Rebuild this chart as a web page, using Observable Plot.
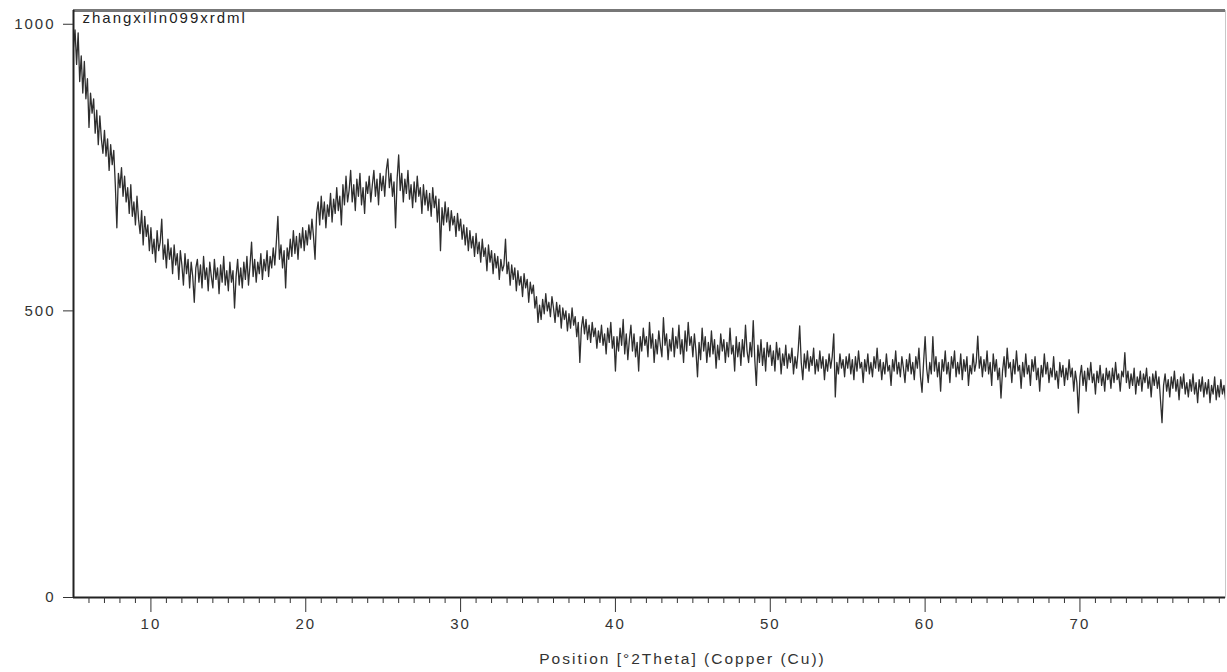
<!DOCTYPE html>
<html>
<head>
<meta charset="utf-8">
<script src="https://cdn.jsdelivr.net/npm/d3@7"></script>
<script src="https://cdn.jsdelivr.net/npm/@observablehq/plot@0.6"></script>
<style>
  html, body { margin: 0; padding: 0; background: #fff; }
</style>
</head>
<body>
<div id="chart"></div>
<script>
// ---- Data (counts, 0.1 °2θ steps) ----
const sampleName = "zhangxilin099xrdml";
const xAxisTitle = "Position [°2Theta] (Copper (Cu))";
const thetaStart = 5.0;
const thetaStep = 0.1;
const yTickValues = [0, 500, 1000];
const xMajorTicks = [10, 20, 30, 40, 50, 60, 70];

const counts05 = [960,990,930,985,900,945,880,935,870,905, 820,880,845,870,810,850,790,840,800,775,
  815,770,800,745,790,755,780,720,645,740, 715,750,700,735,690,715,670,720,665,690,
  650,700,660,635,675,615,665,630,650,605];
const counts10 = [645,600,625,585,640,605,620,660,590,615, 575,625,590,610,565,615,580,600,555,605,
  580,545,600,565,590,540,585,560,515,575, 590,550,580,540,595,555,575,535,585,560,
  540,590,555,575,530,580,550,595,545,570];
const counts15 = [535,585,550,570,505,560,590,545,575,540, 585,555,595,545,580,620,560,590,550,585,
  565,600,555,590,570,605,560,595,575,610, 580,620,665,590,615,575,605,540,610,590,
  625,595,640,600,630,590,635,610,645,605];
const counts20 = [640,615,650,625,660,630,590,670,690,650, 700,660,690,645,685,665,705,655,695,670,
  715,675,700,650,720,685,735,690,710,745, 690,720,675,730,700,740,685,715,670,725,
  705,735,690,720,745,700,730,685,740,710];
const counts25 = [735,700,745,765,715,740,700,725,645,730, 772,710,740,690,730,705,745,695,720,680,
  725,690,735,700,715,670,720,685,710,675, 705,665,715,680,700,655,695,605,680,650,
  690,655,680,640,675,650,665,630,670,640];
const counts30 = [660,625,650,615,645,605,640,610,630,595, 635,600,620,585,625,595,610,570,615,585,
  605,565,600,575,595,555,590,570,580,625, 565,585,545,580,555,575,535,570,545,560,
  525,565,540,555,515,550,530,545,505,525];
const counts35 = [480,510,485,520,495,530,500,515,490,525, 505,480,515,490,510,470,505,485,500,465,
  495,470,505,475,490,455,480,410,470,490, 460,485,450,475,445,480,455,470,435,465,
  445,475,440,460,425,470,445,480,435,455];
const counts40 = [395,455,430,470,440,485,425,460,415,450, 475,430,460,420,445,395,455,430,470,440,
  455,420,480,435,460,410,450,425,465,440, 420,488,440,460,415,450,430,470,420,455,
  435,475,425,450,410,465,430,480,440,455];
const counts45 = [420,460,430,385,445,415,470,430,455,410, 445,420,465,425,450,400,440,415,460,430,
  450,410,445,420,470,425,440,395,455,420, 445,405,450,420,475,430,410,445,420,483,
  415,370,440,410,450,405,435,395,445,420];
const counts50 = [440,405,430,395,445,415,435,390,425,405, 440,400,425,410,435,390,420,400,430,474,
  410,380,425,400,430,395,420,405,435,390, 415,395,430,400,420,380,415,395,425,400,
  420,460,350,410,390,425,400,415,385,420];
const counts55 = [400,425,390,415,380,420,395,430,400,410, 375,415,395,425,390,410,385,420,400,435,
  395,415,380,410,390,425,395,405,370,415, 395,430,390,410,385,420,400,375,415,395,
  425,390,410,380,420,400,435,385,358,410];
const counts60 = [455,400,375,410,390,455,395,420,385,410, 360,415,395,430,390,410,375,420,400,430,
  385,410,390,425,380,415,395,420,370,405, 390,425,395,410,456,400,420,385,415,395,
  430,390,410,370,425,395,415,380,400,348];
const counts65 = [395,420,385,435,400,410,375,415,390,430, 395,405,365,410,385,425,390,405,370,415,
  395,420,380,400,360,405,385,425,390,410, 375,400,385,420,380,395,365,410,385,405,
  370,400,380,415,385,400,360,395,375,322];
const counts70 = [385,405,370,395,360,400,380,410,375,390, 355,395,375,405,370,390,360,400,380,395,
  365,400,375,410,380,390,360,395,385,427, 375,395,365,390,370,400,355,385,370,395,
  360,390,375,400,365,385,350,390,370,395];
const counts75 = [365,385,345,305,370,390,360,380,350,385, 365,395,360,380,345,385,365,390,355,375,
  350,380,360,390,355,375,340,380,360,385, 350,375,355,380,340,370,355,385,345,370,
  350,380,355,370,345];

const counts = [].concat(counts05, counts10, counts15, counts20, counts25, counts30, counts35,
  counts40, counts45, counts50, counts55, counts60, counts65, counts70, counts75);
const scan = counts.map((c, i) => ({theta: +(thetaStart + i * thetaStep).toFixed(1), counts: c}));
const xMinorTicks = d3.range(6, 80).filter(t => t % 10 !== 0);

const font = "'Liberation Sans', Arial, Helvetica, sans-serif";

const chart = Plot.plot({
  width: 1227,
  height: 672,
  marginLeft: 73,
  marginRight: 2,
  marginTop: 10,
  marginBottom: 75,
  x: {domain: [5, 79.4]},
  y: {domain: [0, 1024]},
  style: {fontFamily: font, fontSize: "14px", color: "#333", background: "#fff", letterSpacing: "2px"},
  marks: [
    Plot.frame({stroke: "#c8c8c8", strokeWidth: 1}),
    Plot.ruleY([1024], {stroke: "#777", strokeWidth: 3}),
    Plot.line(scan, {x: "theta", y: "counts", stroke: "#2e2e2e", strokeWidth: 1.3, clip: true}),
    Plot.ruleX([5], {stroke: "#222", strokeWidth: 2}),
    Plot.ruleY([0], {stroke: "#222", strokeWidth: 2}),
    Plot.axisX({ticks: xMinorTicks, tickSize: 6, tickFormat: () => "", label: null, stroke: "#333"}),
    Plot.axisX({ticks: xMajorTicks, tickSize: 15, tickPadding: 6, label: null, stroke: "#333", fontSize: 15, tickFormat: d3.format("d")}),
    Plot.axisY({ticks: yTickValues, tickSize: 10, tickPadding: 8, label: null, stroke: "#333", fontSize: 15, tickFormat: d3.format("d")}),
    Plot.text([sampleName], {frameAnchor: "top-left", dx: 9, dy: 2, textAnchor: "start", lineAnchor: "top", fontSize: 15, fill: "#222"}),
    Plot.text([xAxisTitle], {frameAnchor: "bottom", dx: 33, dy: 62, lineAnchor: "middle", fontSize: 15.5, fill: "#333"})
  ]
});
document.getElementById("chart").appendChild(chart);
</script>
</body>
</html>
